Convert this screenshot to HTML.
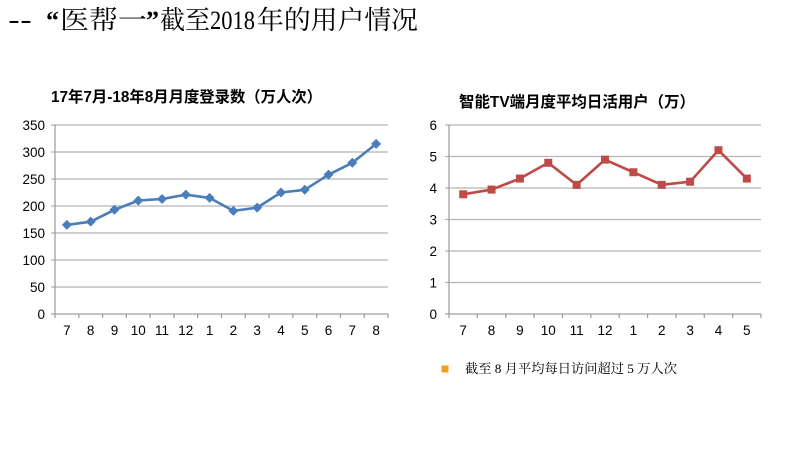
<!DOCTYPE html>
<html><head><meta charset="utf-8">
<style>
html,body{margin:0;padding:0;background:#fff;}
body{width:800px;height:450px;overflow:hidden;}
svg{display:block;}
.t{font-family:"Liberation Sans","Noto Sans CJK SC",sans-serif;font-size:13.5px;fill:#000;}
.h{font-family:"Liberation Sans","Noto Sans CJK SC",sans-serif;font-size:15.5px;font-weight:bold;fill:#000;}
.s{font-family:"Liberation Serif","Noto Serif CJK SC",serif;fill:#000;}
</style></head>
<body>
<svg width="800" height="450" viewBox="0 0 800 450" xmlns="http://www.w3.org/2000/svg">
<!-- page title -->
<g class="s" font-size="26">
<text x="8" y="29" textLength="24" lengthAdjust="spacingAndGlyphs" font-family="Liberation Sans">--</text>
<text x="46" y="29" font-weight="bold" font-family="Liberation Serif">“</text>
<text x="60" y="29" textLength="87" lengthAdjust="spacingAndGlyphs">医帮一</text>
<text x="146" y="29" font-weight="bold" font-family="Liberation Serif">”</text>
<text x="160" y="29" textLength="50" lengthAdjust="spacingAndGlyphs">截至</text>
<text x="210" y="29" textLength="45" lengthAdjust="spacingAndGlyphs" font-family="Liberation Serif">2018</text>
<text x="257" y="29" textLength="161" lengthAdjust="spacingAndGlyphs">年的用户情况</text>
</g>

<!-- LEFT CHART -->
<text class="h" x="51" y="102" textLength="271" lengthAdjust="spacingAndGlyphs">17年7月-18年8月月度登录数（万人次）</text>
<g stroke="#b4b4b4" stroke-width="1.3">
<line x1="51" y1="125" x2="388" y2="125"/>
<line x1="51" y1="152" x2="388" y2="152"/>
<line x1="51" y1="179" x2="388" y2="179"/>
<line x1="51" y1="206" x2="388" y2="206"/>
<line x1="51" y1="233" x2="388" y2="233"/>
<line x1="51" y1="260" x2="388" y2="260"/>
<line x1="51" y1="287" x2="388" y2="287"/>
</g>
<g stroke="#a0a0a0" stroke-width="1.3">
<line x1="55" y1="125" x2="55" y2="318"/>
<line x1="51" y1="314" x2="388" y2="314"/>
<line x1="78.79" y1="314" x2="78.79" y2="318"/>
<line x1="102.57" y1="314" x2="102.57" y2="318"/>
<line x1="126.36" y1="314" x2="126.36" y2="318"/>
<line x1="150.14" y1="314" x2="150.14" y2="318"/>
<line x1="173.93" y1="314" x2="173.93" y2="318"/>
<line x1="197.71" y1="314" x2="197.71" y2="318"/>
<line x1="221.5" y1="314" x2="221.5" y2="318"/>
<line x1="245.29" y1="314" x2="245.29" y2="318"/>
<line x1="269.07" y1="314" x2="269.07" y2="318"/>
<line x1="292.86" y1="314" x2="292.86" y2="318"/>
<line x1="316.64" y1="314" x2="316.64" y2="318"/>
<line x1="340.43" y1="314" x2="340.43" y2="318"/>
<line x1="364.21" y1="314" x2="364.21" y2="318"/>
<line x1="388" y1="314" x2="388" y2="318"/>
</g>
<g class="t" text-anchor="end">
<text x="45" y="130">350</text>
<text x="45" y="157">300</text>
<text x="45" y="184">250</text>
<text x="45" y="211">200</text>
<text x="45" y="238">150</text>
<text x="45" y="265">100</text>
<text x="45" y="292">50</text>
<text x="45" y="319">0</text>
</g>
<g class="t" text-anchor="middle">
<text x="66.89" y="335">7</text>
<text x="90.68" y="335">8</text>
<text x="114.46" y="335">9</text>
<text x="138.25" y="335">10</text>
<text x="162.04" y="335">11</text>
<text x="185.82" y="335">12</text>
<text x="209.61" y="335">1</text>
<text x="233.39" y="335">2</text>
<text x="257.18" y="335">3</text>
<text x="280.96" y="335">4</text>
<text x="304.75" y="335">5</text>
<text x="328.54" y="335">6</text>
<text x="352.32" y="335">7</text>
<text x="376.11" y="335">8</text>
</g>
<polyline fill="none" stroke="#4a7ebb" stroke-width="2.6" stroke-linejoin="round"
points="66.89,224.9 90.68,221.66 114.46,209.78 138.25,200.6 162.04,198.98 185.82,194.66 209.61,197.9 233.39,210.86 257.18,207.62 280.96,192.5 304.75,189.8 328.54,174.68 352.32,162.8 376.11,143.9"/>
<g fill="#4a7ebb">
<path d="M66.89,219.9l5,5l-5,5l-5,-5z"/>
<path d="M90.68,216.66l5,5l-5,5l-5,-5z"/>
<path d="M114.46,204.78l5,5l-5,5l-5,-5z"/>
<path d="M138.25,195.6l5,5l-5,5l-5,-5z"/>
<path d="M162.04,193.98l5,5l-5,5l-5,-5z"/>
<path d="M185.82,189.66l5,5l-5,5l-5,-5z"/>
<path d="M209.61,192.9l5,5l-5,5l-5,-5z"/>
<path d="M233.39,205.86l5,5l-5,5l-5,-5z"/>
<path d="M257.18,202.62l5,5l-5,5l-5,-5z"/>
<path d="M280.96,187.5l5,5l-5,5l-5,-5z"/>
<path d="M304.75,184.8l5,5l-5,5l-5,-5z"/>
<path d="M328.54,169.68l5,5l-5,5l-5,-5z"/>
<path d="M352.32,157.8l5,5l-5,5l-5,-5z"/>
<path d="M376.11,138.9l5,5l-5,5l-5,-5z"/>
</g>

<!-- RIGHT CHART -->
<text class="h" x="459" y="107" textLength="236" lengthAdjust="spacingAndGlyphs">智能TV端月度平均日活用户（万）</text>
<g stroke="#b4b4b4" stroke-width="1.3">
<line x1="445" y1="125" x2="761" y2="125"/>
<line x1="445" y1="156.5" x2="761" y2="156.5"/>
<line x1="445" y1="188" x2="761" y2="188"/>
<line x1="445" y1="219.5" x2="761" y2="219.5"/>
<line x1="445" y1="251" x2="761" y2="251"/>
<line x1="445" y1="282.5" x2="761" y2="282.5"/>
</g>
<g stroke="#a0a0a0" stroke-width="1.3">
<line x1="449" y1="125" x2="449" y2="318"/>
<line x1="445" y1="314" x2="761" y2="314"/>
<line x1="477.36" y1="314" x2="477.36" y2="318"/>
<line x1="505.73" y1="314" x2="505.73" y2="318"/>
<line x1="534.09" y1="314" x2="534.09" y2="318"/>
<line x1="562.45" y1="314" x2="562.45" y2="318"/>
<line x1="590.82" y1="314" x2="590.82" y2="318"/>
<line x1="619.18" y1="314" x2="619.18" y2="318"/>
<line x1="647.55" y1="314" x2="647.55" y2="318"/>
<line x1="675.91" y1="314" x2="675.91" y2="318"/>
<line x1="704.27" y1="314" x2="704.27" y2="318"/>
<line x1="732.64" y1="314" x2="732.64" y2="318"/>
<line x1="761" y1="314" x2="761" y2="318"/>
</g>
<g class="t" text-anchor="end">
<text x="437" y="130">6</text>
<text x="437" y="161.5">5</text>
<text x="437" y="193">4</text>
<text x="437" y="224.5">3</text>
<text x="437" y="256">2</text>
<text x="437" y="287.5">1</text>
<text x="437" y="319">0</text>
</g>
<g class="t" text-anchor="middle">
<text x="463.18" y="335">7</text>
<text x="491.55" y="335">8</text>
<text x="519.91" y="335">9</text>
<text x="548.27" y="335">10</text>
<text x="576.64" y="335">11</text>
<text x="605" y="335">12</text>
<text x="633.36" y="335">1</text>
<text x="661.73" y="335">2</text>
<text x="690.09" y="335">3</text>
<text x="718.45" y="335">4</text>
<text x="746.82" y="335">5</text>
</g>
<polyline fill="none" stroke="#be4b48" stroke-width="2.6" stroke-linejoin="round"
points="463.18,194.3 491.55,189.58 519.91,178.55 548.27,162.8 576.64,184.85 605,159.65 633.36,172.25 661.73,184.85 690.09,181.7 718.45,150.2 746.82,178.55"/>
<g fill="#be4b48">
<rect x="459.18" y="190.3" width="8" height="8"/>
<rect x="487.55" y="185.58" width="8" height="8"/>
<rect x="515.91" y="174.55" width="8" height="8"/>
<rect x="544.27" y="158.8" width="8" height="8"/>
<rect x="572.64" y="180.85" width="8" height="8"/>
<rect x="601" y="155.65" width="8" height="8"/>
<rect x="629.36" y="168.25" width="8" height="8"/>
<rect x="657.73" y="180.85" width="8" height="8"/>
<rect x="686.09" y="177.7" width="8" height="8"/>
<rect x="714.45" y="146.2" width="8" height="8"/>
<rect x="742.82" y="174.55" width="8" height="8"/>
</g>

<!-- legend note -->
<rect x="441.5" y="365.5" width="7" height="7" fill="#f0a020"/>
<text class="s" x="465" y="373" font-size="13" textLength="212" lengthAdjust="spacingAndGlyphs">截至 8 月平均每日访问超过 5 万人次</text>
</svg>
</body></html>
